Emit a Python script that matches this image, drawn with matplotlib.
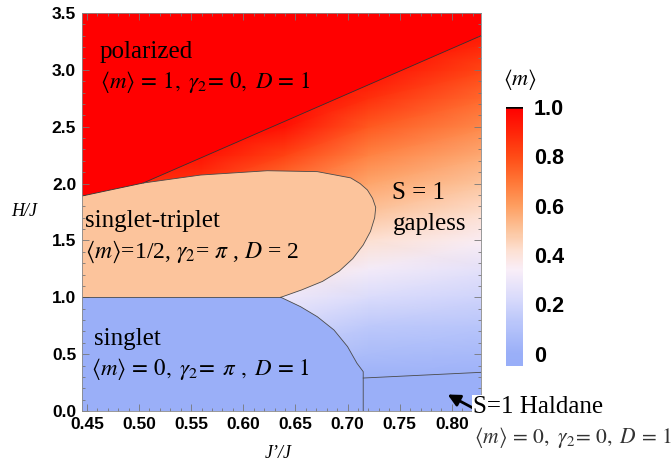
import numpy as np
import matplotlib.pyplot as plt
from matplotlib.colors import LinearSegmentedColormap, Normalize
from matplotlib.colorbar import ColorbarBase

plt.rcParams['mathtext.fontset'] = 'stix'
plt.rcParams['font.serif'] = ['Liberation Serif', 'DejaVu Serif']

# phase boundaries (J'/J, H/J)
sat_x = [0.445, 0.504, 0.828]
sat_h = [1.89, 2.005, 3.30]
st_x = [0.504, 0.559, 0.623, 0.671, 0.703, 0.712, 0.719, 0.724, 0.727, 0.726, 0.722,
        0.715, 0.705, 0.692, 0.676, 0.656, 0.636]
st_h = [2.005, 2.075, 2.113, 2.105, 2.05, 2.0, 1.944, 1.87, 1.79, 1.70, 1.58,
        1.46, 1.34, 1.23, 1.14, 1.065, 1.0]
sg_x = [0.636, 0.655, 0.671, 0.687, 0.700, 0.709, 0.715, 0.715]
sg_h = [1.0, 0.917, 0.829, 0.712, 0.566, 0.420, 0.346, 0.0]
hal_x = [0.715, 0.828]
hal_h = [0.29, 0.34]

# magnetization <m> in the gapless phase, coarse grid
grid_x = [0.44, 0.56, 0.64, 0.72, 0.84]
grid_h = [0.0, 0.25, 0.5, 0.75, 1.0, 1.25, 1.5, 1.75, 2.0, 2.25, 2.5, 2.75, 3.0, 3.25, 3.5]
m_grid = [
    [0.0, 0.0, 0.0, 0.0, 0.0],
    [0.0, 0.0, 0.02, 0.0, 0.0],
    [0.1, 0.1, 0.12, 0.07, 0.06],
    [0.2, 0.2, 0.21, 0.14, 0.12],
    [0.3, 0.3, 0.30, 0.23, 0.19],
    [0.4, 0.4, 0.40, 0.32, 0.26],
    [0.5, 0.5, 0.50, 0.42, 0.34],
    [0.6, 0.6, 0.60, 0.50, 0.42],
    [0.9, 0.85, 0.70, 0.58, 0.49],
    [1.0, 0.95, 0.82, 0.67, 0.56],
    [1.0, 1.0, 0.95, 0.77, 0.64],
    [1.0, 1.0, 1.0, 0.87, 0.72],
    [1.0, 1.0, 1.0, 0.96, 0.80],
    [1.0, 1.0, 1.0, 1.0, 0.90],
    [1.0, 1.0, 1.0, 1.0, 1.0],
]

cb_ticks = [0, 0.2, 0.4, 0.6, 0.8, 1.0]
cb_labels = ['0', '0.2', '0.4', '0.6', '0.8', '1.0']

stops = [(-0.05, '#98aef8'), (0.0, '#9aaff8'), (0.12, '#b8c5fa'), (0.22, '#d8dafb'),
         (0.34, '#f9eef8'), (0.42, '#fde0d2'), (0.5, '#fcc49c'), (0.6, '#fe9e60'),
         (0.7, '#ff7636'), (0.8, '#ff4c16'), (0.9, '#ff2408'), (1.0, '#ff0000')]
norm = Normalize(-0.05, 1.0)
cmap = LinearSegmentedColormap.from_list('m', [((v + 0.05) / 1.05, c) for v, c in stops])

fig = plt.figure(figsize=(6.72, 4.68), dpi=100)
ax = fig.add_axes([0.1216, 0.1218, 0.5942, 0.8504])
xmin, xmax = 0.445, 0.828

ax.pcolormesh(grid_x, grid_h, np.array(m_grid), shading='gouraud', cmap=cmap, norm=norm)

line_kw = dict(color='#4a4a4a', lw=0.6)
# polarized
ax.fill(list(sat_x) + [xmax, xmin], list(sat_h) + [3.5, 3.5], color='#ff0000', lw=0)
# singlet-triplet
ax.fill([xmin] + list(st_x) + [xmin], [sat_h[0]] + list(st_h) + [1.0], color='#fcc49c', lw=0)
# singlet
ax.fill([xmin] + list(sg_x) + [xmin], [1.0] + list(sg_h) + [0.0], color='#9aaff8', lw=0)
# Haldane
ax.fill(list(hal_x) + [xmax, hal_x[0]], list(hal_h) + [0.0, 0.0], color='#9aaff8', lw=0)

ax.plot(sat_x, sat_h, color='#333333', lw=0.6)
ax.plot(st_x, st_h, **line_kw)
ax.plot([xmin, st_x[-1]], [1.0, 1.0], **line_kw)
ax.plot(sg_x, sg_h, **line_kw)
ax.plot(hal_x, hal_h, **line_kw)

ax.set_xlim(xmin, xmax)
ax.set_ylim(0, 3.5)
ax.set_xticks(np.arange(0.45, 0.81, 0.05))
ax.set_xticks(np.arange(0.45, 0.83, 0.01), minor=True)
ax.set_yticks(np.arange(0, 3.51, 0.5))
ax.set_yticks(np.arange(0, 3.51, 0.1), minor=True)
ax.xaxis.set_major_formatter(plt.FormatStrFormatter('%.2f'))
ax.yaxis.set_major_formatter(plt.FormatStrFormatter('%.1f'))
ax.tick_params(which='both', direction='in', top=True, right=True, color='#777777',
               width=0.6)
ax.tick_params(which='major', length=5, labelsize=12.5, pad=4)
ax.tick_params(which='minor', length=2.5)
for lab in ax.get_xticklabels() + ax.get_yticklabels():
    lab.set_fontfamily('Liberation Sans')
    lab.set_fontweight('bold')
for sp in ax.spines.values():
    sp.set_color('#888888')
    sp.set_linewidth(0.6)

serif = dict(family='serif', color='black')
ax.text(0.4625, 3.10, 'polarized', fontsize=18, **serif)
ax.text(0.4625, 2.84, r'$\langle m\rangle\,=\,1,\ \gamma_2\!=\,0,\ D\,=\,1$', fontsize=16.5, **serif)
ax.text(0.4485, 1.62, 'singlet-triplet', fontsize=18, **serif)
ax.text(0.4485, 1.35, r'$\langle m\rangle$=1/2, $\gamma_2$= $\pi$ , $D$ = 2', fontsize=17, **serif)
ax.text(0.4565, 0.58, 'singlet', fontsize=18, **serif)
ax.text(0.4535, 0.32, r'$\langle m\rangle\,=\,0,\ \gamma_2\!=\ \pi\ ,\ D\,=\,1$', fontsize=16.5, **serif)
ax.text(0.743, 1.86, 'S = 1', fontsize=18, **serif)
ax.text(0.743, 1.59, 'gapless', fontsize=18, **serif)

ax.annotate('', xy=(0.796, 0.145), xytext=(0.8205, 0.025),
            arrowprops=dict(arrowstyle='-|>', color='black', lw=2.0, mutation_scale=18,
                            shrinkA=0, shrinkB=0),
            annotation_clip=False)

fig.text(473 / 672, 1 - 413 / 468, 'S=1 Haldane', fontsize=18, family='serif',
         va='baseline', bbox=dict(facecolor='white', edgecolor='none', pad=0.5))
fig.text(474 / 672, 1 - 443 / 468, r'$\langle m\rangle\,=\,0,\ \gamma_2\!=\,0,\ D\,=\,1$',
         fontsize=15.5, family='serif', color='#333333', va='baseline')

fig.text(24 / 672, 1 - 212 / 468, 'H/J', fontsize=13, family='serif', style='italic',
         ha='center', va='center')
fig.text(278 / 672, 1 - 453 / 468, 'J\u2019/J', fontsize=13, family='serif', style='italic',
         ha='center', va='center')

cax = fig.add_axes([506 / 672, 1 - 366 / 468, 17 / 672, 259 / 468])
cb = ColorbarBase(cax, cmap=cmap, norm=norm, ticks=cb_ticks)
cb.set_ticklabels(cb_labels)
cb.outline.set_visible(False)
cax.tick_params(length=0, pad=8, labelsize=15.5)
for lab in cax.get_yticklabels():
    lab.set_fontfamily('Liberation Sans')
    lab.set_fontweight('bold')
cax.axhline(1.0, color='black', lw=1.8)
fig.text(520 / 672, 1 - 80 / 468, r'$\langle m\rangle$', fontsize=16, ha='center', va='center')

fig.savefig('out.png', dpi=100)
